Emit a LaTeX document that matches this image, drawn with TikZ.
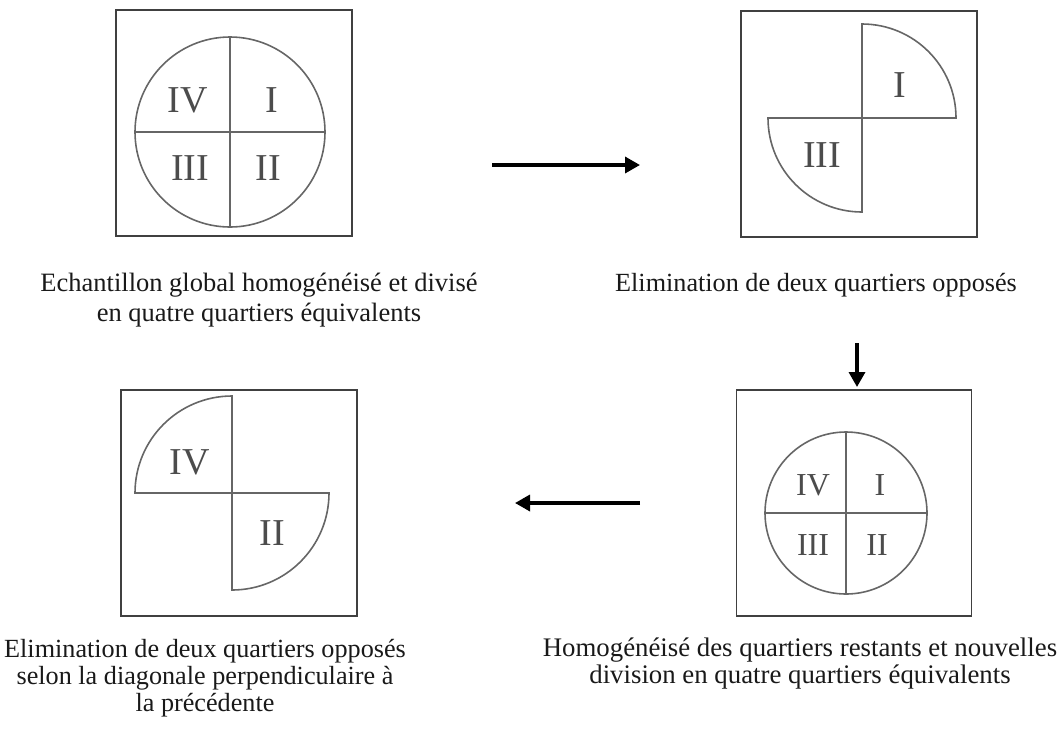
\documentclass[tikz,border=0pt]{standalone}
\usepackage{fontspec}
\setmainfont{Liberation Serif}
\usetikzlibrary{arrows.meta}

\tikzset{
  cadre/.style={draw=black!75, line width=1.4pt, minimum width=236pt, minimum height=226pt, inner sep=0pt},
  trait/.style={draw=black!60, line width=1.6pt},
  chiffre/.style={text=black!70, font=\fontsize{38}{38}\selectfont, inner sep=0pt},
  petitchiffre/.style={chiffre, font=\fontsize{32}{32}\selectfont},
  legende/.style={align=center, text=black!90, font=\fontsize{26.2}{27}\selectfont, inner sep=0pt},
  fleche/.style={line width=3.4pt, -{Triangle[length=15pt,width=16pt]}},
}

\begin{document}
\begin{tikzpicture}[x=1pt,y=1pt]
    \useasboundingbox (0,0) rectangle (1062,-729);

    % 方框
    \node[cadre] (b1) at (234,-123) {};
    \node[cadre] (b2) at (859,-124) {};
    \node[cadre] (b3) at (239,-503) {};
    \node[cadre, minimum width=235pt] (b4) at (854,-503) {};

    % 圆与象限
    \coordinate (c1) at (230,-132);
    \coordinate (c2) at (862,-118);
    \coordinate (c3) at (232,-493);
    \coordinate (c4) at (846,-513);

    \draw[trait] (c1) circle[radius=95];
    \draw[trait] (c1) ++(0,95) -- ++(0,-190);
    \draw[trait] (c1) ++(-95,0) -- ++(190,0);

    \draw[trait] (c2) -- ++(0,94) arc[start angle=90, end angle=0, radius=94] -- cycle;
    \draw[trait] (c2) -- ++(0,-94) arc[start angle=270, end angle=180, radius=94] -- cycle;

    \draw[trait] (c3) -- ++(-97,0) arc[start angle=180, end angle=90, radius=97] -- cycle;
    \draw[trait] (c3) -- ++(97,0) arc[start angle=0, end angle=-90, radius=97] -- cycle;

    \draw[trait] (c4) circle[radius=81];
    \draw[trait] (c4) ++(0,81) -- ++(0,-162);
    \draw[trait] (c4) ++(-81,0) -- ++(162,0);

    % 象限编号
    \node[chiffre] (q1iv) at (188,-100) {IV};
    \node[chiffre] (q1i) at (272,-100) {I};
    \node[chiffre] (q1iii) at (190,-168) {III};
    \node[chiffre] (q1ii) at (268,-168) {II};

    \node[chiffre] (q2i) at (900,-85) {I};
    \node[chiffre] (q2iii) at (822,-155) {III};

    \node[chiffre] (q3iv) at (190,-462) {IV};
    \node[chiffre] (q3ii) at (272,-533) {II};

    \node[petitchiffre] (q4iv) at (813,-485) {IV};
    \node[petitchiffre] (q4i) at (880,-485) {I};
    \node[petitchiffre] (q4iii) at (813,-545) {III};
    \node[petitchiffre] (q4ii) at (877,-545) {II};

    % 箭头
    \coordinate (f1a) at (492,-165);
    \coordinate (f1b) at (640,-165);
    \coordinate (f2a) at (857,-343);
    \coordinate (f2b) at (857,-387);
    \coordinate (f3a) at (640,-503);
    \coordinate (f3b) at (515,-503);
    \draw[fleche] (f1a) -- (f1b);
    \draw[fleche] (f2a) -- (f2b);
    \draw[fleche] (f3a) -- (f3b);

    % 文字标注
    \node[legende, font=\fontsize{26.5}{30}\selectfont] (l1) at (259,-300)
        {Echantillon global homogénéisé et divisé\\en quatre quartiers équivalents};
    \node[legende] (l2) at (816,-285) {Elimination de deux quartiers opposés};
    \node[legende] (l3) at (205,-678)
        {Elimination de deux quartiers opposés\\selon la diagonale perpendiculaire à\\la précédente};
    \node[legende, font=\fontsize{26.8}{27}\selectfont] (l4) at (800,-664)
        {Homogénéisé des quartiers restants et nouvelles\\division en quatre quartiers équivalents};
\end{tikzpicture}
\end{document}
